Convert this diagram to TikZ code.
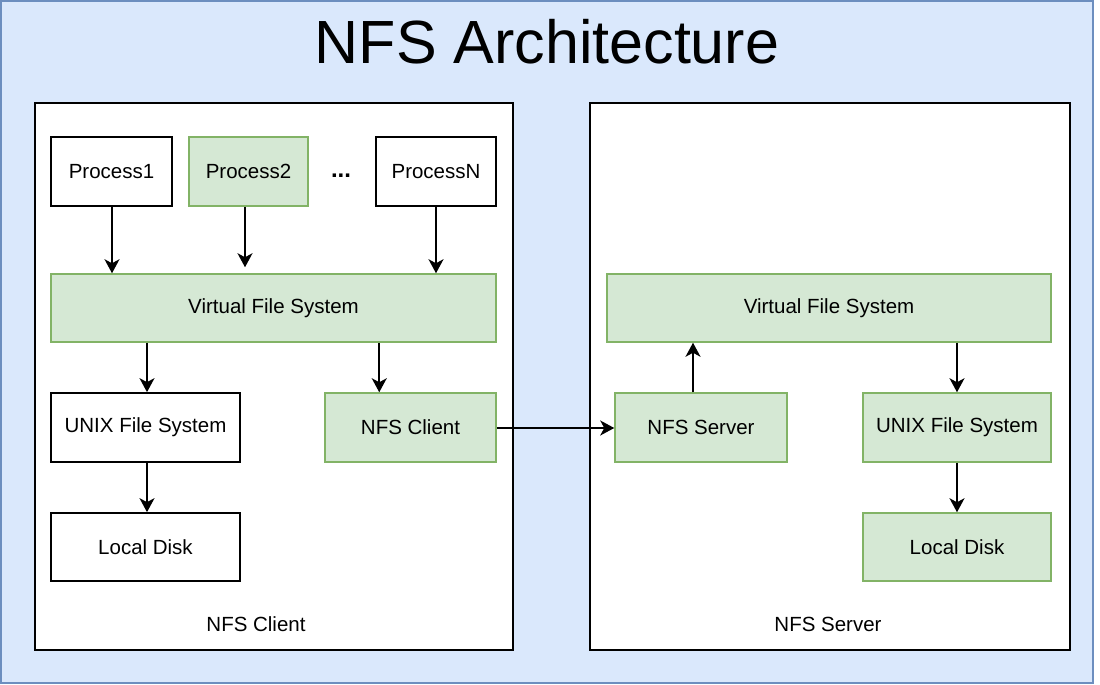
\documentclass[tikz,border=0pt]{standalone}
\usepackage{fontspec}
\setmainfont{Liberation Sans}
\usetikzlibrary{arrows.meta,calc}
\definecolor{bgblue}{HTML}{DAE8FC}
\definecolor{bgborder}{HTML}{6C8EBF}
\definecolor{gfill}{HTML}{D5E8D4}
\definecolor{gline}{HTML}{82B366}
\tikzset{
  wbox/.style={draw=black, line width=1.7pt, fill=white, font=\fontsize{20.5}{23}\selectfont, inner sep=0pt},
  gbox/.style={draw=gline, line width=1.5pt, fill=gfill, font=\fontsize{20.5}{23}\selectfont, inner sep=0pt},
  cont/.style={draw=black, line width=1.7pt, fill=white, inner sep=0pt},
  arr/.style={line width=1.8pt, -{Stealth[length=14pt,width=15pt,inset=4pt]}},
  lbl/.style={font=\fontsize{20.5}{23}\selectfont}
}
\begin{document}
\begin{tikzpicture}[x=1pt,y=-1pt]
\useasboundingbox (0,0) rectangle (1100,685);
\fill[white] (0,0) rectangle (1100,685);
\draw[fill=bgblue, draw=bgborder, line width=1.5pt] (1,1) rectangle (1093,683);
\node[font=\fontsize{61}{66}\selectfont] (title) at (547,42) {NFS Architecture};
% containers
\node[cont, minimum width=478pt, minimum height=547pt] (clientbox) at (274,376.5) {};
\node[cont, minimum width=480pt, minimum height=547pt] (serverbox) at (830,376.5) {};
% client side
\node[wbox, minimum width=121pt, minimum height=69pt] (p1) at (111.5,171.5) {Process1};
\node[gbox, minimum width=119pt, minimum height=69pt] (p2) at (248.5,171.5) {Process2};
\node[lbl, font=\fontsize{24}{26}\selectfont\bfseries] (dots) at (341,176) {...};
\node[wbox, minimum width=120pt, minimum height=69pt] (pn) at (436,171.5) {ProcessN};
\node[gbox, minimum width=445pt, minimum height=68pt] (vfsc) at (273.5,308) {Virtual File System};
\node[wbox, minimum width=189pt, minimum height=69pt] (unixc) at (145.5,427.5) {UNIX File System};
\node[wbox, minimum width=189pt, minimum height=68pt] (diskc) at (145.5,547) {Local Disk};
\node[gbox, minimum width=171pt, minimum height=69pt] (nfsc) at (410.5,427.5) {NFS Client};
\node[lbl] (clientlbl) at (256,624) {NFS Client};
% server side
\node[gbox, minimum width=444pt, minimum height=68pt] (vfss) at (829,308) {Virtual File System};
\node[gbox, minimum width=172pt, minimum height=69pt] (nfss) at (701,427.5) {NFS Server};
\node[gbox, minimum width=188pt, minimum height=69pt] (unixs) at (957,427.5) {UNIX File System};
\node[gbox, minimum width=188pt, minimum height=68pt] (disks) at (957,547) {Local Disk};
\node[lbl] (serverlbl) at (828,624) {NFS Server};
% helper coordinates
\coordinate (v1) at ([xshift=0.5pt]p1.south);
\coordinate (v2) at ([xshift=-3.5pt]p2.south);
\coordinate (v3) at ([xshift=1.5pt]unixc.north);
\coordinate (v4) at ([xshift=1.5pt]unixc.south);
\coordinate (t1) at ([xshift=55pt]nfsc.north west);
\coordinate (t2) at ([xshift=-8pt]nfss.north);
\coordinate (h) at ([yshift=-0.5pt]nfsc.east);
% arrows
\draw[arr] (v1) -- (v1 |- vfsc.north);
\draw[arr] (v2) -- ([yshift=6pt]v2 |- vfsc.north);
\draw[arr] (pn.south) -- (pn.south |- vfsc.north);
\draw[arr] (v3 |- vfsc.south) -- (v3);
\draw[arr] (t1 |- vfsc.south) -- (t1);
\draw[arr] (v4) -- (v4 |- diskc.north);
\draw[arr] (h) -- (h -| nfss.west);
\draw[arr] (t2) -- (t2 |- vfss.south);
\draw[arr] (unixs.north |- vfss.south) -- (unixs.north);
\draw[arr] (unixs.south) -- (disks.north);
\end{tikzpicture}
\end{document}
